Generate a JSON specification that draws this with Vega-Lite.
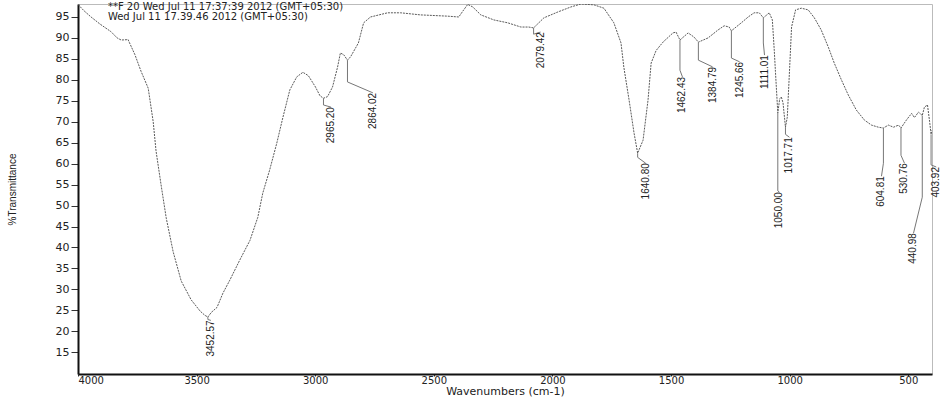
{
  "$schema": "https://vega.github.io/schema/vega-lite/v6.json",
  "width": 854,
  "height": 370,
  "autosize": "none",
  "padding": {"left": 78, "top": 4, "right": 16, "bottom": 25},
  "background": "white",
  "config": {
    "view": {"stroke": "#bbbbbb", "strokeWidth": 1},
    "axis": {"grid": false, "domainColor": "#111", "domainWidth": 2, "tickColor": "#333", "labelColor": "#222", "titleColor": "#222", "labelFont": "DejaVu Sans", "titleFont": "DejaVu Sans", "titleFontWeight": "normal", "labelOverlap": false}
  },
  "datasets": {
    "spectrum": [
      {"wn":4000,"t":98},{"wn":3975,"t":96.5},{"wn":3945,"t":95},{"wn":3907,"t":93.3},{"wn":3861,"t":91.5},{"wn":3835,"t":90},{"wn":3818,"t":89.5},{"wn":3789,"t":89.6},{"wn":3760,"t":86},{"wn":3734,"t":82},{"wn":3704,"t":78},{"wn":3683,"t":70},{"wn":3671,"t":63},{"wn":3650,"t":55},{"wn":3628,"t":47},{"wn":3599,"t":39},{"wn":3565,"t":32},{"wn":3523,"t":27.5},{"wn":3485,"t":24.8},{"wn":3465,"t":23.8},{"wn":3452.57,"t":23.4},{"wn":3438,"t":24.5},{"wn":3414,"t":25.7},{"wn":3389,"t":29.1},{"wn":3360,"t":32.2},{"wn":3318,"t":37},{"wn":3275,"t":41.7},{"wn":3242,"t":47.2},{"wn":3221,"t":53},{"wn":3192,"t":58.5},{"wn":3162,"t":64.9},{"wn":3136,"t":71.1},{"wn":3107,"t":77.6},{"wn":3078,"t":80.7},{"wn":3052,"t":81.8},{"wn":3029,"t":81},{"wn":2999,"t":78.3},{"wn":2980,"t":76.2},{"wn":2965.2,"t":75.6},{"wn":2948,"t":76},{"wn":2927,"t":78.3},{"wn":2906,"t":83},{"wn":2894,"t":86.4},{"wn":2880,"t":86},{"wn":2864.02,"t":84.7},{"wn":2851,"t":85.5},{"wn":2818,"t":88.8},{"wn":2796,"t":93.6},{"wn":2767,"t":95},{"wn":2695,"t":96},{"wn":2640,"t":96},{"wn":2556,"t":95.5},{"wn":2442,"t":95.2},{"wn":2395,"t":95},{"wn":2374,"t":96.7},{"wn":2357,"t":98},{"wn":2336,"t":97.4},{"wn":2302,"t":95.5},{"wn":2247,"t":94.3},{"wn":2188,"t":93.6},{"wn":2133,"t":92.6},{"wn":2100,"t":92.6},{"wn":2079.42,"t":92.4},{"wn":2036,"t":94.8},{"wn":1977,"t":96.2},{"wn":1922,"t":97.4},{"wn":1880,"t":98.1},{"wn":1825,"t":97.9},{"wn":1783,"t":97.1},{"wn":1741,"t":93.6},{"wn":1711,"t":88.8},{"wn":1699,"t":83},{"wn":1677,"t":75.2},{"wn":1656,"t":67.3},{"wn":1640.8,"t":62.5},{"wn":1618,"t":65.6},{"wn":1597,"t":75.2},{"wn":1584,"t":84},{"wn":1563,"t":87},{"wn":1534,"t":89},{"wn":1492,"t":91.2},{"wn":1479,"t":91.4},{"wn":1462.43,"t":89.5},{"wn":1428,"t":91.2},{"wn":1403,"t":90.2},{"wn":1384.79,"t":89},{"wn":1344,"t":90},{"wn":1302,"t":91.9},{"wn":1276,"t":92.9},{"wn":1255,"t":92.6},{"wn":1245.66,"t":91.7},{"wn":1204,"t":93.6},{"wn":1175,"t":95},{"wn":1150,"t":96},{"wn":1128,"t":96},{"wn":1111.01,"t":94.8},{"wn":1086,"t":96},{"wn":1073,"t":94.3},{"wn":1065,"t":87.1},{"wn":1060,"t":82},{"wn":1050,"t":72.1},{"wn":1042,"t":75.5},{"wn":1035,"t":75.9},{"wn":1028,"t":74.5},{"wn":1017.71,"t":68.7},{"wn":1010,"t":71.1},{"wn":1000,"t":83},{"wn":992,"t":92.6},{"wn":975,"t":96.7},{"wn":951,"t":97.1},{"wn":922,"t":96.7},{"wn":896,"t":94.8},{"wn":867,"t":91.9},{"wn":837,"t":87.8},{"wn":812,"t":84},{"wn":782,"t":80},{"wn":753,"t":76.4},{"wn":719,"t":72.8},{"wn":685,"t":70.4},{"wn":655,"t":69.2},{"wn":626,"t":68.7},{"wn":604.81,"t":68.5},{"wn":584,"t":69.2},{"wn":562,"t":68.7},{"wn":541,"t":69.2},{"wn":530.76,"t":68.5},{"wn":508,"t":70.4},{"wn":486,"t":72},{"wn":474,"t":71},{"wn":457,"t":72.3},{"wn":440.98,"t":71.5},{"wn":432,"t":73.5},{"wn":419,"t":74},{"wn":410,"t":70},{"wn":403.92,"t":67},{"wn":400,"t":68}
    ],
    "peaks": [
      {"wn":3452.57,"t":23.4,"bend":22.8,"lx":3440,"ly":22.6,"label":"3452.57"},
      {"wn":2965.2,"t":75.6,"bend":74,"lx":2934,"ly":73.5,"label":"2965.20"},
      {"wn":2864.02,"t":84.7,"bend":79.5,"lx":2757,"ly":76.9,"label":"2864.02"},
      {"wn":2079.42,"t":92.4,"bend":90.9,"lx":2050,"ly":91.4,"label":"2079.42"},
      {"wn":1640.8,"t":62.5,"bend":61.5,"lx":1607,"ly":60.1,"label":"1640.80"},
      {"wn":1462.43,"t":89.5,"bend":82.3,"lx":1452,"ly":80.7,"label":"1462.43"},
      {"wn":1384.79,"t":89,"bend":84.7,"lx":1325,"ly":83.1,"label":"1384.79"},
      {"wn":1245.66,"t":91.7,"bend":85.2,"lx":1211,"ly":84.3,"label":"1245.66"},
      {"wn":1111.01,"t":94.8,"bend":88.8,"lx":1106,"ly":85.9,"label":"1111.01"},
      {"wn":1050,"t":72.1,"bend":53.5,"lx":1043,"ly":53.2,"label":"1050.00"},
      {"wn":1017.71,"t":68.7,"bend":67,"lx":1001,"ly":66.3,"label":"1017.71"},
      {"wn":604.81,"t":68.5,"bend":60.1,"lx":613,"ly":57,"label":"604.81"},
      {"wn":530.76,"t":68.5,"bend":62,"lx":516,"ly":60.1,"label":"530.76"},
      {"wn":440.98,"t":71.5,"bend":52,"lx":478,"ly":43.4,"label":"440.98"},
      {"wn":403.92,"t":67,"bend":59.7,"lx":382,"ly":59.2,"label":"403.92"}
    ],
    "header": [
      {"wn":3874,"t":97.5,"text":"**F 20 Wed Jul 11 17:37:39 2012 (GMT+05:30)"},
      {"wn":3874,"t":94.9,"text":"Wed Jul 11 17.39.46 2012 (GMT+05:30)"}
    ]
  },
  "layer": [
    {
      "data": {"name": "spectrum"},
      "mark": {"type": "line", "color": "#5a5a5a", "strokeWidth": 1, "strokeDash": [2, 1], "clip": true},
      "encoding": {
        "x": {"field": "wn", "type": "quantitative", "scale": {"domain": [4000, 400], "nice": false, "zero": false},
          "axis": {"values": [4000, 3500, 3000, 2500, 2000, 1500, 1000, 500], "title": "Wavenumbers (cm-1)", "titleFontSize": 11, "labelFontSize": 10, "tickSize": 2, "labelPadding": -1, "titlePadding": 0, "format": "d", "labelOverlap": false}},
        "y": {"field": "t", "type": "quantitative", "scale": {"domain": [9.8, 98.1], "nice": false, "zero": false},
          "axis": {"values": [15,20,25,30,35,40,45,50,55,60,65,70,75,80,85,90,95], "tickCount": 17, "labelOverlap": false, "title": "%Transmittance", "titleFont": "Liberation Sans", "titleFontSize": 10, "labelFontSize": 11, "tickSize": 7, "labelPadding": 2, "titleX": -66, "titleY": 185, "titleAngle": 270, "titleAlign": "center", "titleBaseline": "middle"}}
      }
    },
    {
      "data": {"name": "peaks"},
      "mark": {"type": "rule", "color": "#777", "strokeWidth": 1},
      "encoding": {"x": {"field": "wn", "type": "quantitative"}, "y": {"field": "t", "type": "quantitative"}, "y2": {"field": "bend"}}
    },
    {
      "data": {"name": "peaks"},
      "mark": {"type": "rule", "color": "#777", "strokeWidth": 1},
      "encoding": {"x": {"field": "wn", "type": "quantitative"}, "y": {"field": "bend", "type": "quantitative"}, "x2": {"field": "lx"}, "y2": {"field": "ly"}}
    },
    {
      "data": {"name": "peaks"},
      "mark": {"type": "text", "angle": 270, "align": "right", "baseline": "middle", "font": "Liberation Sans", "fontSize": 10, "color": "#222"},
      "encoding": {"x": {"field": "lx", "type": "quantitative"}, "y": {"field": "ly", "type": "quantitative"}, "text": {"field": "label"}}
    },
    {
      "data": {"name": "header"},
      "mark": {"type": "text", "align": "left", "baseline": "middle", "font": "DejaVu Sans", "fontSize": 10, "color": "#222"},
      "encoding": {"x": {"field": "wn", "type": "quantitative"}, "y": {"field": "t", "type": "quantitative"}, "text": {"field": "text"}}
    }
  ]
}
